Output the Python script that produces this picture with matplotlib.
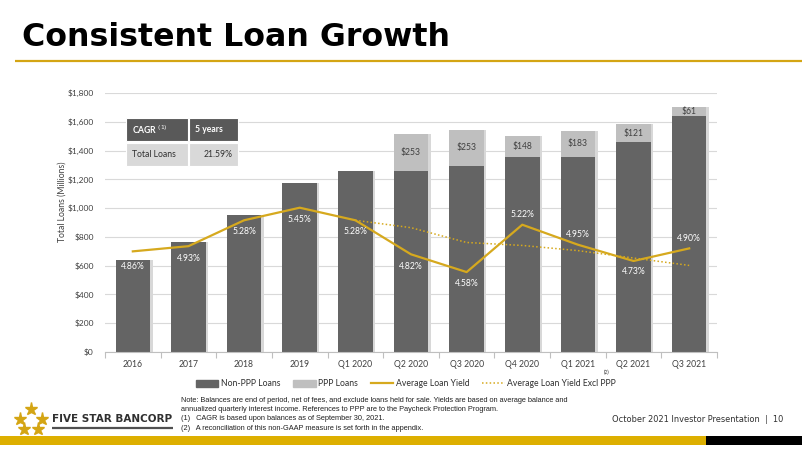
import matplotlib
matplotlib.use("Agg")
import matplotlib.pyplot as plt
from matplotlib.patches import Rectangle, Patch
from matplotlib.lines import Line2D

plt.rcParams['font.family'] = ['Lato', 'DejaVu Sans']

# ---------------- data ----------------
categories = ["2016", "2017", "2018", "2019", "Q1 2020", "Q2 2020", "Q3 2020",
              "Q4 2020", "Q1 2021", "Q2 2021", "Q3 2021"]
non_ppp_loans = [636, 766, 953, 1172, 1255, 1260, 1293, 1352, 1355, 1461, 1642]
ppp_loans = [0, 0, 0, 0, 0, 253, 253, 148, 183, 121, 61]
ppp_labels = ["", "", "", "", "", "$253", "$253", "$148", "$183", "$121", "$61"]
avg_yield = [4.86, 4.93, 5.28, 5.45, 5.28, 4.82, 4.58, 5.22, 4.95, 4.73, 4.90]
yield_excl_idx = [4, 5, 6, 7, 8, 9, 10]
avg_yield_excl_ppp = [5.28, 5.18, 4.98, 4.94, 4.87, 4.77, 4.67]
y_ticks = [0, 200, 400, 600, 800, 1000, 1200, 1400, 1600, 1800]
y_tick_labels = ["$0", "$200", "$400", "$600", "$800", "$1,000", "$1,200",
                 "$1,400", "$1,600", "$1,800"]
table_header = ["CAGR $^{(1)}$", "5 years"]
table_row = ["Total Loans", "21.59%"]
title = "Consistent Loan Growth"
y_label = "Total Loans (Millions)"
legend_labels = ["Non-PPP Loans", "PPP Loans", "Average Loan Yield",
                 "Average Loan Yield Excl PPP"]
note_lines = [
    "Note: Balances are end of period, net of fees, and exclude loans held for sale. Yields are based on average balance and",
    "annualized quarterly interest income. References to PPP are to the Paycheck Protection Program.",
    "(1)   CAGR is based upon balances as of September 30, 2021.",
    "(2)   A reconciliation of this non-GAAP measure is set forth in the appendix.",
]
company = "FIVE STAR BANCORP"
footer = "October 2021 Investor Presentation  |  10"

# ---------------- styles ----------------
DARK = "#646464"
LIGHT = "#BFBFBF"
GOLD = "#D6A91E"
BAR_GOLD = "#DDAF00"
W, H = 802, 451
label_offsets_px = [-15, -12, -11, -12, -11, -12, -11, 10, 10, -11, 10]

fig = plt.figure(figsize=(W / 100, H / 100), dpi=100)

def fx(px):
    return px / W

def fy(py):
    return 1 - py / H

# ---------------- main axes ----------------
ax_l, ax_r, ax_t, ax_b = 105, 717, 93, 352
ax = fig.add_axes([fx(ax_l), fy(ax_b), (ax_r - ax_l) / W, (ax_b - ax_t) / H])
x = list(range(len(categories)))
bw = 0.62
# faint shadow
totals = [a + b for a, b in zip(non_ppp_loans, ppp_loans)]
ax.bar([i + 0.045 for i in x], totals, width=bw, color="#D8D8D8", zorder=1)
ax.bar(x, non_ppp_loans, width=bw, color=DARK, zorder=2)
ax.bar(x, ppp_loans, width=bw, bottom=non_ppp_loans, color=LIGHT, zorder=2)
for i, (n, p, lab) in enumerate(zip(non_ppp_loans, ppp_loans, ppp_labels)):
    if p > 0:
        ax.text(i, n + p / 2, lab, ha="center", va="center", fontsize=6.2,
                color="#404040", zorder=5)

ax.set_xlim(-0.5, len(categories) - 0.5)
ax.set_ylim(0, 1800)
ax.set_yticks(y_ticks)
ax.set_yticklabels(y_tick_labels, fontsize=6, color="#404040")
ax.set_xticks(x)
ax.set_xticklabels(categories, fontsize=6.2, color="#404040")
ax.set_xticks([i - 0.5 for i in range(len(categories) + 1)], minor=True)
ax.tick_params(axis="x", which="major", length=0, pad=6)
ax.tick_params(axis="x", which="minor", length=4, color="#BFBFBF", width=0.8)
ax.tick_params(axis="y", length=0, pad=8)
ax.grid(axis="y", color="#D9D9D9", linewidth=0.8, zorder=0)
ax.set_axisbelow(True)
for s in ["top", "right", "left"]:
    ax.spines[s].set_visible(False)
ax.spines["bottom"].set_color("#BFBFBF")
ax.spines["bottom"].set_linewidth(0.8)

# secondary axes for yields
ax2 = ax.twinx()
ax2.set_ylim(3.5, 7.0)
ax2.axis("off")
ax2.plot(x, avg_yield, color=GOLD, lw=1.6, zorder=4)
ax2.plot(yield_excl_idx, avg_yield_excl_ppp, color=GOLD, lw=1.1, ls=(0, (1, 1.5)), zorder=4)
for i, (v, off) in enumerate(zip(avg_yield, label_offsets_px)):
    ax2.annotate(f"{v:.2f}%", (i, v), xytext=(0, off * 0.72), textcoords="offset points",
                 ha="center", va="center", fontsize=6.2, color="white", zorder=6)

fig.text(fx(62), fy(202), y_label, rotation=90, ha="center", va="center",
         fontsize=6.2, color="#404040")

# ---------------- CAGR table ----------------
cells = [
    (126, 118, 62, 23, "#595959", table_header[0], "white", "left", "bold"),
    (189, 118, 49, 23, "#595959", table_header[1], "white", "left", "bold"),
    (126, 143, 62, 23, "#D9D9D9", table_row[0], "#303030", "left", "normal"),
    (189, 143, 49, 23, "#D9D9D9", table_row[1], "#303030", "right", "normal"),
]
for cx, cy, cw, ch, col, txt, tcol, ha, wt in cells:
    fig.patches.append(Rectangle((fx(cx), fy(cy + ch)), cw / W, ch / H,
                                 transform=fig.transFigure, facecolor=col,
                                 edgecolor="white", lw=0.8, zorder=5))
    tx = cx + 6 if ha == "left" else cx + cw - 5
    fig.text(fx(tx), fy(cy + ch / 2), txt, ha=ha, va="center", fontsize=6.2,
             color=tcol, fontweight=wt, zorder=6)

# ---------------- legend ----------------
handles = [Patch(color=DARK), Patch(color=LIGHT),
           Line2D([], [], color=GOLD, lw=1.6),
           Line2D([], [], color=GOLD, lw=1.1, ls=(0, (1, 1.5)))]
fig.legend(handles, legend_labels, loc="center", bbox_to_anchor=(fx(406), fy(384)),
           ncol=4, frameon=False, fontsize=6.2, handlelength=2.6, handleheight=0.9,
           columnspacing=1.5, handletextpad=0.3, labelcolor="#303030")
fig.text(fx(607), fy(372), "(2)", fontsize=3.5, ha="center", va="center", color="#303030")

# ---------------- title ----------------
fig.text(fx(22), fy(37), title, fontsize=22.8, fontweight="bold",
         family="DejaVu Sans", ha="left", va="center", color="black")
deco = fig.add_axes([0, 0, 1, 1], zorder=-1)
deco.set_xlim(0, W)
deco.set_ylim(H, 0)
deco.axis("off")
deco.plot([15, W], [61, 61], color="#D4A514", lw=1.6, solid_capstyle="butt")

# ---------------- footer ----------------
deco.add_patch(Rectangle((0, 436), 706, 8.5, color=BAR_GOLD, lw=0))
deco.add_patch(Rectangle((706, 436), W - 706, 8.5, color="black", lw=0))
for sx, sy in [(31, 409), (20, 419), (42, 419), (24, 429), (38, 429)]:
    deco.plot(sx, sy, marker="*", ms=9.5, color="#D4A514", mec="#D4A514")
fig.text(fx(52), fy(419), company, fontsize=7.5, fontweight="bold",
         family="DejaVu Sans", ha="left", va="center", color="#303030")
deco.plot([52, 173], [427.5, 427.5], color="#505050", lw=1.6, solid_capstyle="butt")
for k, line in enumerate(note_lines):
    fig.text(fx(181), fy(400 + k * 9.5), line, fontsize=5.35, ha="left", va="center",
             color="#202020", family=["Liberation Sans", "DejaVu Sans"])
fig.text(fx(783), fy(420), footer, fontsize=5.95, ha="right", va="center",
         color="#303030", family=["DejaVu Sans"])

fig.savefig("out.png", dpi=100)
